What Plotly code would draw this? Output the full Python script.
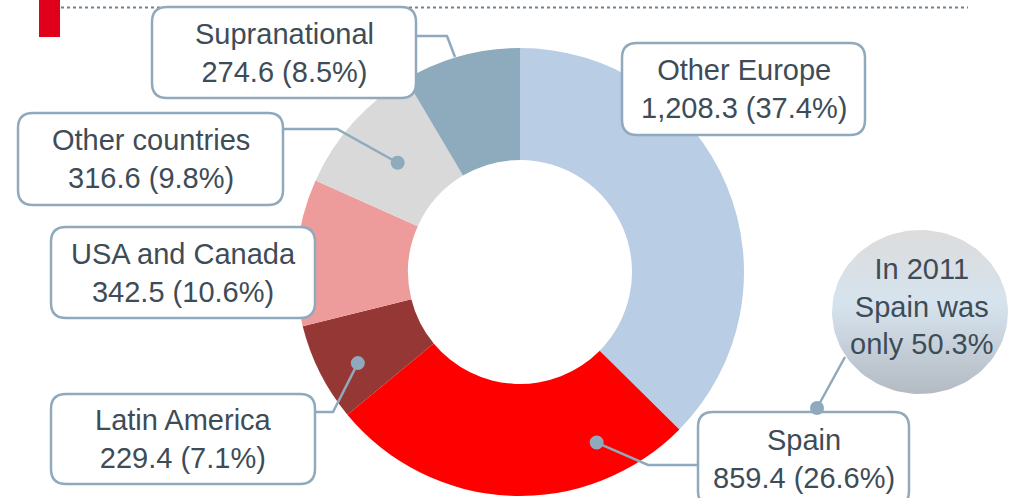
import numpy as np
import plotly.graph_objects as go

# Breakdown by region (amounts and shares of total)
regions = ["Other Europe", "Spain", "Latin America", "USA and Canada",
           "Other countries", "Supranational"]
amounts = [1208.3, 859.4, 229.4, 342.5, 316.6, 274.6]
shares = [37.4, 26.6, 7.1, 10.6, 9.8, 8.5]
slice_colors = ["#b9cde5", "#ff0000", "#953735", "#ee9c9b", "#d9d9d9", "#8eaabd"]
bubble_lines = ["In 2011", "Spain was", "only 50.3%"]

W, H = 1010, 498
CX, CY, R_OUT = 520, 272, 224
HOLE = 0.5

FONT = "Liberation Sans"
TXT = "#3e4c57"
EDGE = "#8fa9bd"


def label_text(i):
    return f"{regions[i]}<br>{amounts[i]:,.1f} ({shares[i]:.1f}%)"


def rounded_rect(x0, y0, x1, y1, r):
    return (f"M{x0 + r},{y0} L{x1 - r},{y0} Q{x1},{y0} {x1},{y0 + r} "
            f"L{x1},{y1 - r} Q{x1},{y1} {x1 - r},{y1} L{x0 + r},{y1} "
            f"Q{x0},{y1} {x0},{y1 - r} L{x0},{y0 + r} Q{x0},{y0} {x0 + r},{y0} Z")


def polar(angle_deg, r):
    a = np.radians(angle_deg)
    return CX + r * np.sin(a), CY - r * np.cos(a)


total = sum(amounts)
cum = np.cumsum([0] + amounts) / total * 360.0
mid_angle = [(cum[i] + cum[i + 1]) / 2 for i in range(len(amounts))]

fig = go.Figure()

# Gradient bubble on the right
t = np.linspace(0, 2 * np.pi, 121)
bx, by, brx, bry = 920, 312, 88, 82
fig.add_trace(go.Scatter(
    x=bx + brx * np.cos(t), y=by + bry * np.sin(t),
    mode="lines", fill="toself", line=dict(width=0),
    fillgradient=dict(type="vertical", start=by - bry, stop=by + bry,
                      colorscale=[[0, "#dcdcdc"], [0.45, "#d6e3ee"], [1, "#b3bac2"]]),
    hoverinfo="skip", showlegend=False,
))

fig.add_trace(go.Pie(
    labels=regions, values=amounts, sort=False, direction="clockwise",
    rotation=0, hole=HOLE, textinfo="none",
    marker=dict(colors=slice_colors, line=dict(width=0)),
    domain=dict(x=[(CX - R_OUT) / W, (CX + R_OUT) / W],
                y=[(H - CY - R_OUT) / H, (H - CY + R_OUT) / H]),
    showlegend=False, hoverinfo="label+value+percent",
))

shapes = []
annotations = []

# Header accent and dotted rule
shapes.append(dict(type="rect", xref="x", yref="y", x0=39, x1=60, y0=-2, y1=37,
                   fillcolor="#e1001b", line=dict(width=0), layer="above"))
shapes.append(dict(type="line", xref="x", yref="y", x0=61, x1=968, y0=7.5, y1=7.5,
                   line=dict(color="#6f8292", width=2, dash="dot"), layer="above"))

line_style = dict(color=EDGE, width=2.5)

# Connector polylines (drawn below the boxes)
r_mid = R_OUT * (1 + HOLE) / 2
oc = polar(mid_angle[4], r_mid - 4)
la = polar(mid_angle[2] - 2.5, 186)
sp = polar(155.8, 187)
connectors = [
    ([416, 447, 455], [36, 36, 57], None),                  # Supranational
    ([283, 337, oc[0]], [129, 129, oc[1]], oc),              # Other countries
    ([310, 333, la[0]], [412, 412, la[1]], la),              # Latin America
    ([698, 648, sp[0]], [465, 465, sp[1]], sp),              # Spain
    ([817, 845], [408, 357], (817, 408)),                    # Spain -> bubble
]
for xs, ys, dot in connectors:
    path = "M" + " L".join(f"{x},{y}" for x, y in zip(xs, ys))
    shapes.append(dict(type="path", xref="x", yref="y", path=path,
                       line=line_style, layer="above"))

# Label boxes: (slice index, x0, y0, x1, y1)
boxes = [
    (5, 152, 7, 416, 98),
    (0, 622, 43, 865, 135),
    (4, 18, 113, 283, 205),
    (3, 51, 227, 315, 318),
    (2, 51, 394, 315, 484),
    (1, 698, 412, 909, 506),
]
for idx, x0, y0, x1, y1 in boxes:
    shapes.append(dict(type="path", xref="x", yref="y",
                       path=rounded_rect(x0, y0, x1, y1, 15),
                       fillcolor="white", line=line_style, layer="above"))
    annotations.append(dict(x=(x0 + x1) / 2, y=(y0 + y1) / 2, xref="x", yref="y",
                            text=label_text(idx), showarrow=False,
                            font=dict(family=FONT, size=29, color=TXT),
                            xanchor="center", yanchor="middle", align="center"))

for xs, ys, dot in connectors:
    if dot is not None:
        dx, dy = dot
        shapes.append(dict(type="circle", xref="x", yref="y",
                           x0=dx - 7, x1=dx + 7, y0=dy - 7, y1=dy + 7,
                           fillcolor=EDGE, line=dict(width=0), layer="above"))

annotations.append(dict(x=922, y=306, xref="x", yref="y",
                        text="<br>".join(bubble_lines), showarrow=False,
                        font=dict(family=FONT, size=29, color=TXT),
                        xanchor="center", yanchor="middle", align="center"))

fig.update_layout(
    width=W, height=H, margin=dict(l=0, r=0, t=0, b=0),
    paper_bgcolor="white", plot_bgcolor="white",
    xaxis=dict(range=[0, W], visible=False, fixedrange=True),
    yaxis=dict(range=[H, 0], visible=False, fixedrange=True),
    shapes=shapes, annotations=annotations, showlegend=False,
)

fig.write_html("out.html")
